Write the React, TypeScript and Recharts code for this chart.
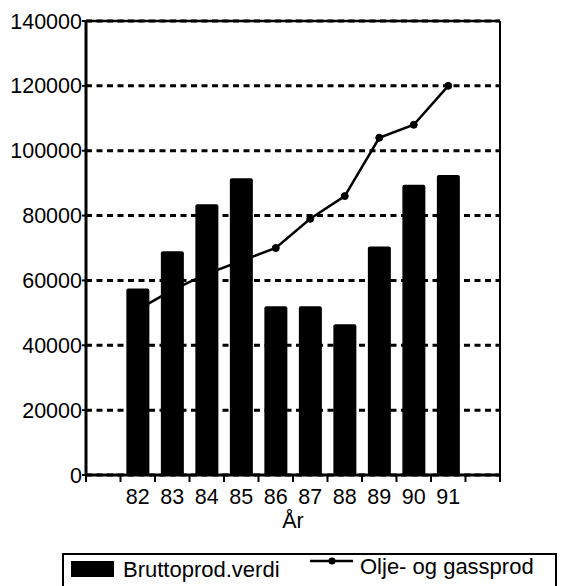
import {
  ComposedChart,
  Bar,
  Line,
  XAxis,
  YAxis,
  CartesianGrid,
  ReferenceLine,
  Legend,
} from 'recharts';

const years = ['82', '83', '84', '85', '86', '87', '88', '89', '90', '91'];
const bruttoprodVerdi = [57500, 69000, 83500, 91500, 52000, 52000, 46500, 70500, 89500, 92500];
const oljeGassprod = [51000, 57000, 62000, 66000, 70000, 79000, 86000, 104000, 108000, 120000];
const yTicks = [0, 20000, 40000, 60000, 80000, 100000, 120000, 140000];

// one empty slot on each side of the years, like the original
const data = [
  { year: '', brutto: null, olje: null },
  ...years.map((year, i) => ({ year, brutto: bruttoprodVerdi[i], olje: oljeGassprod[i] })),
  { year: ' ', brutto: null, olje: null },
];

const FONT = '"Liberation Sans", Arial, sans-serif';
const BAND = (500 - 86) / data.length;

function YearTick(props: any) {
  const { x, y, payload, index } = props;
  const last = index === data.length - 1;
  return (
    <g>
      <line x1={x - BAND / 2} x2={x - BAND / 2} y1={y} y2={y + 7} stroke="#000" strokeWidth={2} />
      {last && <line x1={x + BAND / 2} x2={x + BAND / 2} y1={y} y2={y + 7} stroke="#000" strokeWidth={2} />}
      <text x={x} y={y + 29} textAnchor="middle" fontSize={21.5} fill="#000">
        {payload.value}
      </text>
    </g>
  );
}

function LegendBox() {
  return (
    <svg width={495} height={33} style={{ display: 'block', fontFamily: FONT }}>
      <rect x={1} y={1} width={493} height={60} fill="#fff" stroke="#000" strokeWidth={2} />
      <rect x={9} y={8} width={43} height={16} fill="#000" />
      <text x={61} y={24} fontSize={22} fill="#000">Bruttoprod.verdi</text>
      <line x1={248} x2={291} y1={8} y2={8} stroke="#000" strokeWidth={2.5} />
      <circle cx={270} cy={8} r={3.5} fill="#000" />
      <text x={298} y={21} fontSize={22} fill="#000">Olje- og gassprod</text>
    </svg>
  );
}

export default function App() {
  return (
    <div style={{ position: 'absolute', left: 0, top: 0, width: 583, height: 586, background: '#fff' }}>
      <ComposedChart
        width={583}
        height={586}
        data={data}
        margin={{ top: 21, right: 0, bottom: 0, left: 0 }}
        barCategoryGap="17%"
        style={{ fontFamily: FONT }}
      >
        <CartesianGrid yAxisId="left" vertical={false} stroke="#000" strokeWidth={3} strokeDasharray="6 4.5" />
        <XAxis
          dataKey="year"
          height={111}
          interval={0}
          axisLine={{ stroke: '#000', strokeWidth: 3 }}
          tickLine={false}
          tickSize={0}
          tickMargin={0}
          tick={<YearTick />}
          label={{ value: 'År', position: 'insideBottom', offset: 58, fill: '#000', fontSize: 21.5 }}
        />
        <YAxis
          yAxisId="left"
          width={86}
          domain={[0, 140000]}
          ticks={yTicks}
          interval={0}
          axisLine={{ stroke: '#000', strokeWidth: 3 }}
          tickLine={{ stroke: '#000', strokeWidth: 2 }}
          tickSize={4}
          tickMargin={0}
          tick={{ fill: '#000', fontSize: 21.5 }}
        />
        <YAxis
          yAxisId="right"
          orientation="right"
          width={83}
          domain={[0, 140000]}
          ticks={yTicks}
          interval={0}
          axisLine={{ stroke: '#000', strokeWidth: 2 }}
          tickLine={{ stroke: '#000', strokeWidth: 2 }}
          tickSize={5}
          tickMargin={4}
          tick={{ fill: '#000', fontSize: 21.5 }}
        />
        <ReferenceLine yAxisId="left" y={140000} stroke="#000" strokeWidth={2.5} />
        <Line
          yAxisId="left"
          dataKey="olje"
          name="Olje- og gassprod"
          stroke="#000"
          strokeWidth={2.5}
          dot={{ r: 3.5, fill: '#000', stroke: '#000', strokeWidth: 1 }}
          isAnimationActive={false}
        />
        <Bar
          yAxisId="left"
          dataKey="brutto"
          name="Bruttoprod.verdi"
          fill="#000"
          radius={2}
          isAnimationActive={false}
        />
        <Legend
          layout="vertical"
          align="center"
          verticalAlign="middle"
          wrapperStyle={{ left: 62, top: 553, width: 495 }}
          content={() => <LegendBox />}
        />
      </ComposedChart>
    </div>
  );
}
